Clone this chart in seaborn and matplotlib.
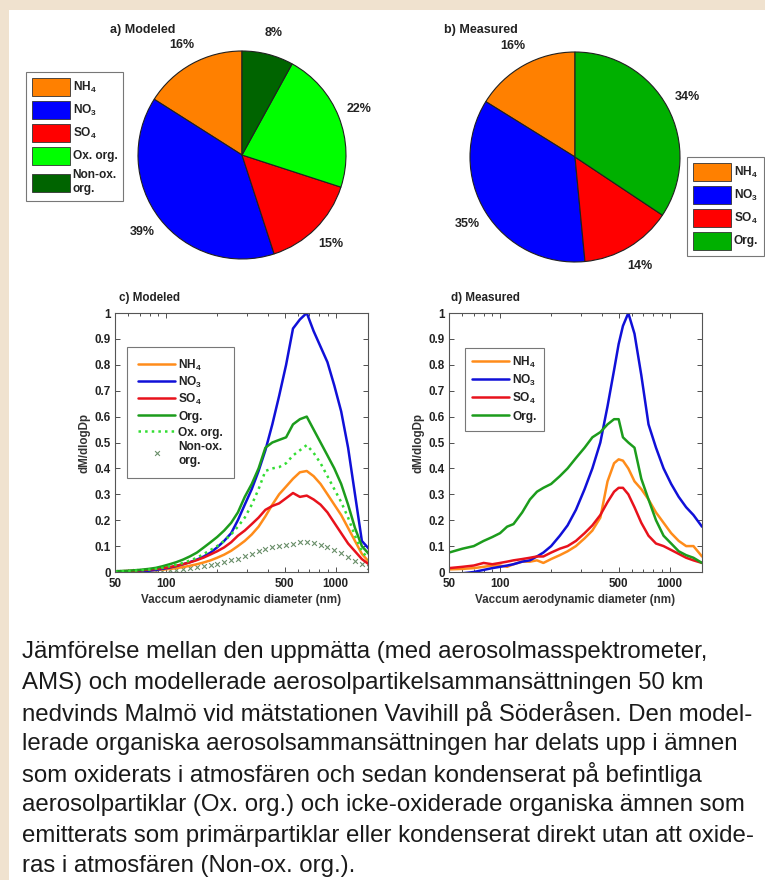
import numpy as np
import pandas as pd
import seaborn as sns
import matplotlib
matplotlib.use("Agg")
import matplotlib.pyplot as plt
from matplotlib.patches import Rectangle, Patch

# ---- pie data (percent) ----
mod_pie_labels = [r"NH$_4$", r"NO$_3$", r"SO$_4$", "Ox. org.", "Non-ox.\norg."]
mod_pie_values = [16, 39, 15, 22, 8]
meas_pie_labels = [r"NH$_4$", r"NO$_3$", r"SO$_4$", "Org."]
meas_pie_values = [16, 35, 14, 34]

# ---- modeled size distributions ----
modeled_dp = [50, 55, 60, 66, 72, 79, 87, 95, 105, 115, 126, 138, 152, 167, 183, 200,
              220, 242, 265, 291, 320, 351, 385, 423, 464, 510, 560, 615, 675, 741,
              814, 894, 981, 1077, 1183, 1299, 1426, 1566]
mod_nh4 = [0.001, 0.001, 0.002, 0.003, 0.004, 0.005, 0.007, 0.009, 0.012, 0.015, 0.019,
           0.024, 0.030, 0.037, 0.045, 0.055, 0.067, 0.082, 0.100, 0.120, 0.145, 0.175,
           0.215, 0.260, 0.300, 0.330, 0.360, 0.385, 0.390, 0.370, 0.340, 0.300, 0.260,
           0.220, 0.170, 0.120, 0.070, 0.040]
mod_no3 = [0.000, 0.000, 0.001, 0.002, 0.003, 0.005, 0.008, 0.012, 0.017, 0.023, 0.030,
           0.038, 0.048, 0.060, 0.075, 0.095, 0.120, 0.150, 0.200, 0.260, 0.320, 0.390,
           0.470, 0.570, 0.680, 0.800, 0.940, 0.975, 1.000, 0.930, 0.870, 0.810, 0.720,
           0.620, 0.480, 0.300, 0.120, 0.090]
mod_so4 = [0.002, 0.003, 0.004, 0.005, 0.007, 0.009, 0.012, 0.015, 0.019, 0.024, 0.030,
           0.037, 0.046, 0.056, 0.068, 0.080, 0.095, 0.115, 0.140, 0.160, 0.185, 0.210,
           0.240, 0.255, 0.265, 0.285, 0.305, 0.290, 0.295, 0.280, 0.260, 0.230, 0.190,
           0.150, 0.110, 0.080, 0.050, 0.030]
mod_org = [0.003, 0.004, 0.005, 0.007, 0.009, 0.012, 0.016, 0.022, 0.030, 0.038, 0.048,
           0.060, 0.075, 0.095, 0.115, 0.135, 0.160, 0.190, 0.230, 0.290, 0.340, 0.400,
           0.480, 0.500, 0.510, 0.520, 0.570, 0.590, 0.600, 0.550, 0.500, 0.450, 0.400,
           0.340, 0.260, 0.170, 0.100, 0.070]
mod_ox = [0.002, 0.003, 0.004, 0.005, 0.007, 0.009, 0.012, 0.016, 0.022, 0.028, 0.035,
          0.044, 0.055, 0.070, 0.085, 0.100, 0.120, 0.145, 0.175, 0.210, 0.260, 0.320,
          0.390, 0.400, 0.405, 0.420, 0.450, 0.470, 0.490, 0.460, 0.420, 0.370, 0.320,
          0.270, 0.210, 0.140, 0.080, 0.050]
mod_nonox = [0.001, 0.001, 0.001, 0.002, 0.002, 0.003, 0.004, 0.005, 0.007, 0.009, 0.011,
             0.014, 0.018, 0.022, 0.027, 0.032, 0.038, 0.045, 0.052, 0.060, 0.070, 0.080,
             0.088, 0.095, 0.100, 0.105, 0.110, 0.115, 0.117, 0.113, 0.106, 0.096, 0.085,
             0.072, 0.058, 0.044, 0.032, 0.020]

# ---- measured size distributions ----
measured_dp = [50, 60, 70, 80, 90, 100, 110, 120, 135, 150, 165, 180, 200, 225, 250, 280,
               315, 350, 390, 430, 470, 500, 530, 570, 620, 680, 750, 830, 920, 1020,
               1130, 1250, 1380, 1550]
meas_nh4 = [0.010, 0.012, 0.015, 0.020, 0.025, 0.025, 0.020, 0.030, 0.040, 0.040, 0.045,
            0.035, 0.050, 0.065, 0.080, 0.100, 0.130, 0.160, 0.210, 0.350, 0.420, 0.435,
            0.430, 0.400, 0.350, 0.320, 0.280, 0.230, 0.190, 0.150, 0.120, 0.100, 0.100,
            0.060]
meas_no3 = [-0.010, -0.005, 0.000, 0.008, 0.015, 0.020, 0.025, 0.030, 0.040, 0.045, 0.060,
            0.075, 0.100, 0.140, 0.180, 0.240, 0.320, 0.400, 0.500, 0.640, 0.780, 0.880,
            0.950, 1.000, 0.920, 0.760, 0.570, 0.480, 0.400, 0.340, 0.290, 0.250, 0.220,
            0.175]
meas_so4 = [0.015, 0.020, 0.025, 0.035, 0.030, 0.035, 0.040, 0.045, 0.050, 0.055, 0.060,
            0.060, 0.075, 0.090, 0.100, 0.120, 0.150, 0.180, 0.220, 0.270, 0.310, 0.325,
            0.325, 0.300, 0.250, 0.190, 0.140, 0.110, 0.100, 0.085, 0.070, 0.055, 0.045,
            0.035]
meas_org = [0.075, 0.090, 0.100, 0.120, 0.135, 0.150, 0.175, 0.185, 0.230, 0.280, 0.310,
            0.325, 0.340, 0.370, 0.400, 0.440, 0.480, 0.520, 0.540, 0.570, 0.590, 0.590,
            0.520, 0.500, 0.480, 0.360, 0.280, 0.200, 0.140, 0.110, 0.080, 0.065, 0.055,
            0.035]

x_ticks = [50, 100, 500, 1000]
y_ticks = [0, 0.1, 0.2, 0.3, 0.4, 0.5, 0.6, 0.7, 0.8, 0.9, 1]
y_tick_labels = ["0", "0.1", "0.2", "0.3", "0.4", "0.5", "0.6", "0.7", "0.8", "0.9", "1"]

caption_lines = [
    "Jämförelse mellan den uppmätta (med aerosolmasspektrometer,",
    "AMS) och modellerade aerosolpartikelsammansättningen 50 km",
    "nedvinds Malmö vid mätstationen Vavihill på Söderåsen. Den model-",
    "lerade organiska aerosolsammansättningen har delats upp i ämnen",
    "som oxiderats i atmosfären och sedan kondenserat på befintliga",
    "aerosolpartiklar (Ox. org.) och icke-oxiderade organiska ämnen som",
    "emitterats som primärpartiklar eller kondenserat direkt utan att oxide-",
    "ras i atmosfären (Non-ox. org.).",
]

sns.set_theme(style="ticks")
plt.rcParams["font.family"] = ["Liberation Sans", "DejaVu Sans"]
plt.rcParams["mathtext.default"] = "regular"

W, H = 765, 880
fig = plt.figure(figsize=(W / 100, H / 100), dpi=100)
fig.patch.set_facecolor("#f0e2cf")
fig.add_artist(Rectangle((9 / W, 0), 1, 1 - 10 / H, transform=fig.transFigure,
                         facecolor="white", edgecolor="none", zorder=-5))


def fx(px):
    return px / W


def fy(py):
    return 1 - py / H


TXT = "#222222"

# ---- pies ----
mod_colors = ["#ff8000", "#0000ff", "#ff0000", "#00ff00", "#006400"]
meas_colors = ["#ff8000", "#0000ff", "#ff0000", "#00b000"]


def draw_pie(cx, cy, r, values, colors):
    ax = fig.add_axes([fx(cx - r), fy(cy + r), 2 * r / W, 2 * r / H])
    wedges, texts = ax.pie(values, colors=colors, startangle=90, counterclock=True,
                           labels=[f"{v}%" for v in values], labeldistance=1.21,
                           wedgeprops=dict(edgecolor="#202020", linewidth=0.8),
                           textprops=dict(fontsize=9, fontweight="bold", color=TXT))
    for t in texts:
        t.set_ha("center")
        t.set_va("center")
    ax.set_xlim(-1, 1)
    ax.set_ylim(-1, 1)
    ax.set_aspect("equal")
    return ax


def pie_legend(ax, labels, colors, x0, y0):
    handles = [Patch(facecolor=c, edgecolor="#333333", linewidth=0.6) for c in colors]
    leg = ax.legend(handles, labels, loc="upper left", bbox_to_anchor=(fx(x0), fy(y0)),
                    bbox_transform=fig.transFigure, borderaxespad=0,
                    prop=dict(size=8.6, weight="bold"),
                    handlelength=3.2, handleheight=1.95, handletextpad=0.2,
                    labelspacing=0.4, borderpad=0.5, fancybox=False, frameon=True)
    leg.get_frame().set_edgecolor("#555555")
    leg.get_frame().set_linewidth(0.8)
    for t in leg.get_texts():
        t.set_color(TXT)


ax_a = draw_pie(242, 155, 104, mod_pie_values, mod_colors)
pie_legend(ax_a, mod_pie_labels, mod_colors, 26, 72)
ax_b = draw_pie(575, 157, 105, meas_pie_values, meas_colors)
pie_legend(ax_b, meas_pie_labels, meas_colors, 687, 157)

fig.text(fx(110), fy(30), "a) Modeled", fontsize=9, fontweight="bold", va="center", color=TXT)
fig.text(fx(444), fy(30), "b) Measured", fontsize=9, fontweight="bold", va="center", color=TXT)

# ---- size distributions ----
c_nh4 = "#ff8c1a"
c_no3 = "#1010d8"
c_so4 = "#e8121c"
c_org = "#1c9c1c"
c_ox = "#33dd33"
c_nonox = "#6a8f6a"


def style_axes(ax, title, title_x):
    ax.set_xscale("log")
    ax.set_xlim(50, 1550)
    ax.set_ylim(0, 1)
    ax.set_xticks(x_ticks)
    ax.set_xticklabels([str(t) for t in x_ticks])
    ax.set_yticks(y_ticks)
    ax.set_yticklabels(y_tick_labels)
    ax.tick_params(which="both", direction="in", top=True, right=True,
                   labelsize=8.4, width=0.6, color="#333333")
    ax.tick_params(which="major", length=3.5)
    ax.tick_params(which="minor", length=2)
    ax.tick_params(axis="x", pad=4)
    ax.tick_params(axis="y", pad=3)
    for lbl in ax.get_xticklabels() + ax.get_yticklabels():
        lbl.set_fontweight("bold")
        lbl.set_color(TXT)
    for s in ax.spines.values():
        s.set_linewidth(0.8)
        s.set_color("#555555")
    ax.set_xlabel("Vaccum aerodynamic diameter (nm)", fontsize=8.4, fontweight="bold",
                  color="#333333", labelpad=3)
    ax.set_ylabel("dM/dlogDp", fontsize=8.4, fontweight="bold", color="#333333", labelpad=3)
    fig.text(fx(title_x), fy(298), title, fontsize=8.4, fontweight="bold", va="center",
             color=TXT)


def line_legend(ax, x0, y0, pad, spacing):
    handles, labels = ax.get_legend_handles_labels()
    leg = ax.legend(handles, labels, loc="upper left", bbox_to_anchor=(fx(x0), fy(y0)),
                    bbox_transform=fig.transFigure, borderaxespad=0,
                    prop=dict(size=8.6, weight="bold"),
                    handlelength=3.1, handleheight=1.45, handletextpad=0.25,
                    labelspacing=spacing, borderpad=pad, fancybox=False, frameon=True)
    leg.get_frame().set_edgecolor("#555555")
    leg.get_frame().set_linewidth(0.8)
    for t in leg.get_texts():
        t.set_color(TXT)


ax_c = fig.add_axes([fx(115), fy(572), 253 / W, 259 / H])
sns.lineplot(x=modeled_dp, y=mod_nh4, ax=ax_c, color=c_nh4, lw=1.8, label=r"NH$_4$")
sns.lineplot(x=modeled_dp, y=mod_no3, ax=ax_c, color=c_no3, lw=1.8, label=r"NO$_3$")
sns.lineplot(x=modeled_dp, y=mod_so4, ax=ax_c, color=c_so4, lw=1.8, label=r"SO$_4$")
sns.lineplot(x=modeled_dp, y=mod_org, ax=ax_c, color=c_org, lw=1.8, label="Org.")
sns.lineplot(x=modeled_dp, y=mod_ox, ax=ax_c, color=c_ox, lw=1.8, linestyle=":",
             label="Ox. org.")
sns.scatterplot(x=modeled_dp, y=mod_nonox, ax=ax_c, color=c_nonox, marker="x", s=12,
                linewidth=0.8, label="Non-ox.\norg.")
style_axes(ax_c, "c) Modeled", 119)
line_legend(ax_c, 127, 347, 0.95, 0.15)

ax_d = fig.add_axes([fx(449), fy(572), 253 / W, 259 / H])
sns.lineplot(x=measured_dp, y=meas_nh4, ax=ax_d, color=c_nh4, lw=1.8, label=r"NH$_4$")
sns.lineplot(x=measured_dp, y=meas_no3, ax=ax_d, color=c_no3, lw=1.8, label=r"NO$_3$")
sns.lineplot(x=measured_dp, y=meas_so4, ax=ax_d, color=c_so4, lw=1.8, label=r"SO$_4$")
sns.lineplot(x=measured_dp, y=meas_org, ax=ax_d, color=c_org, lw=1.8, label="Org.")
style_axes(ax_d, "d) Measured", 451)
line_legend(ax_d, 465, 348, 0.6, 0.24)

# ---- caption ----
for i, line in enumerate(caption_lines):
    fig.text(fx(22), fy(652 + i * 30.6), line, fontsize=17.3, color="#1a1a1a",
             va="center", ha="left")

fig.savefig("out.png", dpi=100, facecolor=fig.get_facecolor())
